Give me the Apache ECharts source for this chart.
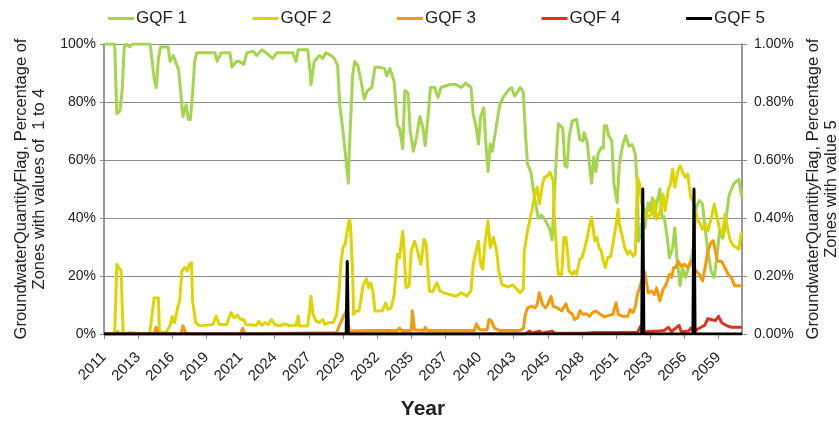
<!DOCTYPE html>
<html>
<head>
<meta charset="utf-8">
<script src="https://cdn.jsdelivr.net/npm/echarts@6/dist/echarts.min.js"></script>
<style>
  html, body { margin: 0; padding: 0; background: #fff; }
  #chart { width: 839px; height: 421px; }
</style>
</head>
<body>
<div id="chart"></div>
<script>
// months counted from Jan 2011, values in percent
const seriesNames = ['GQF 1', 'GQF 2', 'GQF 3', 'GQF 4', 'GQF 5'];
const seriesColors = ['#a3d64c', '#ded500', '#f59a0a', '#e2321e', '#000000'];

const gqf1Month = [0,10,12,15,17,19,21,24,27,43,44,47,49,51,53,60,62,65,67,70,72,74,77,79,81,83,85,87,96,104,106,110,118,120,124,127,131,134,140,143,148,152,158,162,171,177,180,182,191,193,194,197,202,205,208,213,216,219,221,224,226,229,230,233,235,238,241,244,247,251,254,258,263,265,268,272,275,277,280,282,285,287,290,293,296,299,301,304,306,310,313,316,324,330,335,339,344,346,349,351,353,356,358,360,362,364,367,371,374,379,382,385,390,393,395,397,400,404,407,410,414,418,420,422,425,426,430,432,434,436,439,443,446,449,450,453,455,457,459,461,463,466,468,469,471,473,476,478,481,483,486,489,492,495,498,500,501,503,504,507,510,512,514,516,518,521,523,525,528,530,533,535,537,540,542,545,547,550,552,555,558,561,563,566,569,572,575,577,580,582,584,586,590,593,595,598];
const gqf1Value = [100,100,76,77,84,99,100,99,100,100,98,88,85,95,99,99,94,96,94,91,83,75,79,74,74,83,94,97,97,97,94,97,97,92,94,94,93,97,97.5,96,98,97,95,97,97,97,94,98,98,91,86,94,96,95,97,96,95,92.5,79,70,63,52,64,89,94,92.5,87,81,84,85,92,92,91.5,89,91.5,87,72,71,64,84,83,70,63,68,75,71,65,76,85,85,81.5,85,86,86,85,86.5,85,76,71,65.5,75,78,65.5,56,65.5,63,70,79,81.5,84,85,82,85,83.5,69,58.5,56,46,40,41,39,36,32.5,47,68,72.5,71,58,57.5,68,73.5,74,67,66.6,69.5,66,58.5,52,61,56,62,64.3,64,71.8,71.8,68.4,66.6,51.6,45.3,58.5,64.8,68.4,64.8,65.3,62,50.5,32,34.6,38,36.6,45.3,42.4,47,40,44.8,50,40,40.5,33,26.3,29.8,36.6,26.3,16.7,23,19.5,21.7,25.2,28.7,43.7,46,44.8,37.8,28.7,21.7,19.5,28.7,35.4,33,36.6,42.4,48,51.6,52.8,53.3,47];

const gqf2Month = [0,10,12,14,16,18,24,25,40,43,45,47,51,52,58,62,64,66,69,71,73,76,78,80,82,83,86,90,102,105,108,115,119,122,125,128,131,133,143,145,148,151,154,157,160,165,169,174,180,182,183,191,193,194,196,199,202,205,207,211,215,218,220,222,224,226,228,230,231,233,234,236,239,241,243,246,248,250,252,254,257,261,264,266,269,272,275,277,280,281,283,286,288,291,293,295,297,300,302,305,308,312,315,319,324,330,335,340,344,346,348,351,353,355,357,360,362,365,368,370,373,379,383,387,390,393,394,397,401,404,406,408,411,413,416,418,421,422,425,426,429,431,433,435,436,439,441,443,446,448,450,453,455,457,460,462,464,466,468,470,472,475,478,480,482,483,486,488,491,493,496,498,500,502,504,507,510,513,516,518,521,524,526,529,531,533,535,538,540,543,545,547,550,552,554,557,559,561,564,566,569,572,575,577,580,582,585,587,590,593,595,597,598];
const gqf2Value = [0,0,24,23,21.7,0,0.5,0,0,0.7,6.5,12.4,12.4,0.7,0.5,3,6,3.9,9,11.5,21.7,23,21.7,24,24.6,11.5,3.9,2.8,3.3,6.2,3.3,3.3,7.4,5.6,6.5,5,5,3.3,3,4.4,3,4,3.3,5,3.3,2.8,3.5,2.8,3,6.2,2.8,2.8,9,13,6.7,4.4,4,5,3.3,4,4,6.7,13.6,24,29.8,31,35.4,39.5,37.8,21.7,6.7,7.9,7.9,12.4,17,19,16,17.6,14.8,7.9,7.9,8,10.7,8.4,9,13.6,27.5,26.3,35.4,31,16,16.6,28.7,32,29.8,27,24,32.7,31,14.8,14.6,17.6,14.8,14.2,13.6,13,14.2,13,14.8,24,27.5,32,24,22.4,31,39,29.8,33.3,28.7,21.7,17,16.2,17,15.4,14.2,15.4,28.7,35.6,42.5,48.3,50.6,44.8,51.7,54,54.6,55.8,52.9,41.3,24,20.6,20.6,33.3,33.3,26.3,21.7,20.6,21.7,20.6,25.8,26.3,28.7,33.3,37.3,40.2,32.2,33.3,29.8,28.7,25.2,22.9,26.3,26.8,33.3,37.8,43,37.8,33.3,29.8,27.5,28.7,26.8,27.5,54,51.7,45,42.5,40.2,41.3,46,39.6,41.9,48.3,42.5,50,51.7,56.9,50.6,56.3,58,55.2,54,55.2,47.1,46,42.5,39,37.8,36.1,37.8,35.6,39.6,44.8,39.6,36.1,34.4,41.3,35.6,32.2,30.4,29.8,29.2,34.4,35];

const gqf3Month = [0,12,13,14,47,49,51,72,74,77,128,130,132,218,221,224,227,229,230,250,275,277,279,288,289,291,300,301,303,347,349,352,359,361,363,366,371,390,393,395,397,401,404,406,408,411,414,416,419,421,425,429,433,435,439,441,444,446,449,452,455,458,461,465,469,474,477,480,482,486,491,493,496,498,500,504,507,510,513,516,518,521,524,527,530,532,534,536,538,541,544,547,550,552,555,558,561,564,566,569,571,573,575,579,582,585,588,591,594,598];
const gqf3Value = [0,0,0.8,0,0,2.3,0,0,2.8,0,0,2,0,0.5,3.3,5.6,8,4,1,1.2,1.2,2,1.2,1.2,8,1.5,1.2,2.3,1.2,1.2,3.5,1.5,1.5,5,4.5,2,1.2,1.2,2,6.8,9,9.6,9,10.2,14.2,10.2,9,10.2,13,9.6,9,8,10.4,8,6.8,5,5.6,8,6.8,7,6.1,7.4,8,6.8,5.9,6.5,6.8,10.8,6.8,6.1,6.1,8.4,7.4,9.6,13.6,18.3,21.2,14.2,14.8,13.6,15.9,11.4,15.4,17.1,20.6,19.5,22.9,22.9,25.2,23.4,24,22.9,25,23.4,21.7,20.6,18.3,24,28.7,31.6,32.2,28.7,25.2,25,22.9,20.6,19.5,16.6,16.6,16.6];

const gqf4Month = [0,395,399,401,408,410,420,422,450,460,480,500,503,506,520,525,529,532,539,541,548,550,553,558,563,566,569,573,576,579,583,588,598];
const gqf4Value = [0,0,1,0.3,1,0.3,1,0.3,0.3,0.5,0.5,0.5,2.7,0.8,1,1.2,2.3,0.8,3,0.8,1,2,1,2,3,5.3,5,4.6,6.1,3.9,3,2.3,2.3];

// GQF 5 uses the right axis (0 - 1 %)
const gqf5Month = [0,227,228,229,504,505,506,552,553,554,598];
const gqf5Value = [0,0,0.25,0,0,0.5,0,0,0.5,0,0];

const leftTicks = [0, 20, 40, 60, 80, 100];
const rightTicks = [0, 0.2, 0.4, 0.6, 0.8, 1.0];
const firstYear = 2011;
const labelStep = 32; // months between x labels
const lastMonth = 598;

const months = [gqf1Month, gqf2Month, gqf3Month, gqf4Month, gqf5Month];
const values = [gqf1Value, gqf2Value, gqf3Value, gqf4Value, gqf5Value];

const font = 'Liberation Sans, Arial, sans-serif';
const textColor = '#222';
const gridColor = '#8c8c8c';

const chart = echarts.init(document.getElementById('chart'), null, { renderer: 'canvas' });

const series = seriesNames.map((name, i) => ({
  name: name,
  type: 'line',
  yAxisIndex: i === 4 ? 1 : 0,
  data: months[i].map((m, j) => [m, values[i][j]]),
  showSymbol: false,
  symbol: 'none',
  lineStyle: { width: 3, color: seriesColors[i], join: 'round' },
  itemStyle: { color: seriesColors[i] },
  animation: false
}));

chart.setOption({
  animation: false,
  textStyle: { fontFamily: font },
  legend: {
    top: 5,
    left: 103,
    itemGap: 65.5,
    itemWidth: 26,
    itemHeight: 3,
    icon: 'rect',
    textStyle: { fontSize: 17, color: textColor, fontFamily: font, padding: [0, 0, 0, -3] },
    data: seriesNames
  },
  grid: { left: 104, right: 97, top: 44, bottom: 87, containLabel: false, outerBoundsMode: 'none' },
  xAxis: {
    type: 'value',
    min: 0,
    max: lastMonth,
    interval: labelStep,
    name: 'Year',
    nameLocation: 'middle',
    nameGap: 65,
    nameTextStyle: { fontSize: 21, fontWeight: 'bold', color: textColor, fontFamily: font },
    axisLine: { show: true, lineStyle: { color: gridColor } },
    axisTick: { show: true, length: 5, lineStyle: { color: gridColor } },
    splitLine: { show: false },
    axisLabel: {
      rotate: 45,
      fontSize: 15,
      color: textColor,
      margin: 21,
      showMaxLabel: false,
      formatter: v => (v % labelStep === 0 ? String(firstYear + Math.floor(v / 12)) : '')
    }
  },
  yAxis: [
    {
      type: 'value',
      min: leftTicks[0],
      max: leftTicks[leftTicks.length - 1],
      interval: leftTicks[1] - leftTicks[0],
      position: 'left',
      name: 'GroundwaterQuantityFlag, Percentage of\nZones with values of  1 to 4',
      nameLocation: 'middle',
      nameGap: 56,
      nameTextStyle: { fontSize: 16.5, color: textColor, lineHeight: 18, fontFamily: font },
      axisLine: { show: true, lineStyle: { color: '#777', width: 1.5 } },
      axisTick: { show: true, length: 4, lineStyle: { color: gridColor } },
      splitLine: { show: true, lineStyle: { color: gridColor, width: 1 } },
      axisLabel: { fontSize: 14, color: textColor, margin: 8, formatter: '{value}%' }
    },
    {
      type: 'value',
      min: rightTicks[0],
      max: rightTicks[rightTicks.length - 1],
      interval: rightTicks[1] - rightTicks[0],
      position: 'right',
      name: 'GroundwaterQuantityFlag, Percentage of\nZones with value 5',
      nameLocation: 'middle',
      nameGap: 59,
      nameTextStyle: { fontSize: 16.5, color: textColor, lineHeight: 18, fontFamily: font },
      axisLine: { show: true, lineStyle: { color: '#777', width: 1.5 } },
      axisTick: { show: true, length: 5, lineStyle: { color: gridColor } },
      splitLine: { show: false },
      axisLabel: { fontSize: 14, color: textColor, margin: 12, formatter: v => v.toFixed(2) + '%' }
    }
  ],
  series: series
});

window.addEventListener('resize', () => chart && chart.resize());
</script>
</body>
</html>
